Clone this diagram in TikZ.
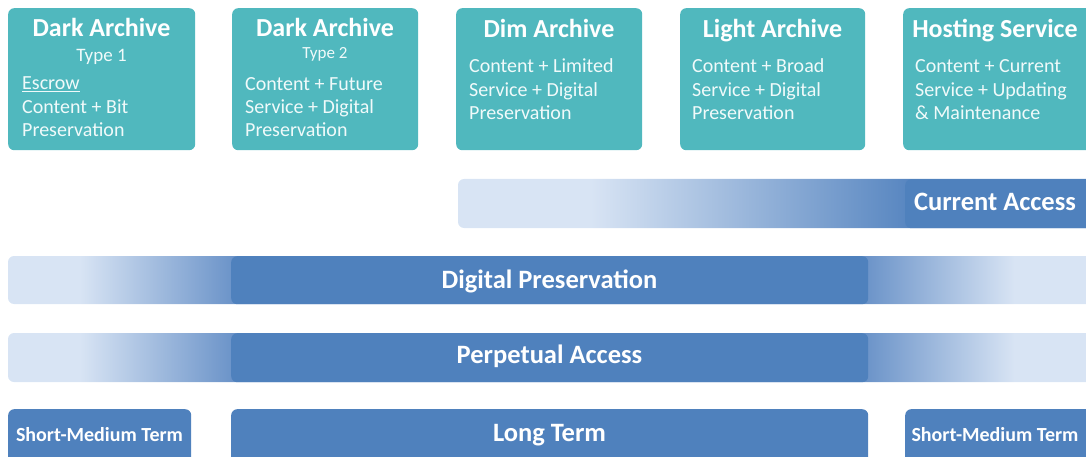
\documentclass[tikz,border=0pt]{standalone}
\usepackage{fontspec}
\setmainfont{Carlito}
\definecolor{tealbox}{HTML}{50B8BE}
\definecolor{bodytext}{HTML}{F0FAFA}
\definecolor{lb}{HTML}{D8E4F4}
\definecolor{db}{HTML}{4F81BD}
\definecolor{mb}{HTML}{6C94C9}
\definecolor{cb}{HTML}{5987C1}
\pgfdeclarehorizontalshading{dpshade}{100bp}{color(0bp)=(lb); color(28.3bp)=(lb); color(35.3bp)=(mb); color(64.5bp)=(mb); color(71.3bp)=(lb); color(100bp)=(lb)}
\pgfdeclarehorizontalshading{cashade}{100bp}{color(0bp)=(lb); color(35.4bp)=(lb); color(60.2bp)=(cb); color(100bp)=(db)}
\begin{document}
\begin{tikzpicture}[x=1pt,y=-1pt,
  tbox/.style={fill=tealbox, rounded corners=6pt, draw=none, inner sep=0pt, anchor=north west, minimum height=142pt},
  dbox/.style={fill=db, rounded corners=6pt, draw=none, inner sep=0pt, anchor=north west},
  title/.style={text=white, font=\fontsize{26}{31}\selectfont\bfseries, anchor=base, inner sep=0pt},
  subt/.style={text=bodytext, font=\fontsize{19}{23}\selectfont, anchor=base, inner sep=0pt},
  bodyt/.style={text=bodytext, font=\fontsize{20}{24}\selectfont, anchor=base west, inner sep=0pt},
  bart/.style={text=white, font=\fontsize{26.5}{31}\selectfont\bfseries, anchor=base, inner sep=0pt},
  smallbart/.style={text=white, font=\fontsize{20}{24}\selectfont\bfseries, anchor=base, inner sep=0pt}]
\clip (0,0) rectangle (1086,457);
% ---------- top boxes ----------
\node[tbox, minimum width=187pt] (b1) at (8,8) {};
\node[tbox, minimum width=186pt] (b2) at (232,8) {};
\node[tbox, minimum width=186pt] (b3) at (456,8) {};
\node[tbox, minimum width=185pt] (b4) at (680,8) {};
\node[tbox, minimum width=195pt] (b5) at (903,8) {};
% box 1
\node[title] (t1) at (101.5,37) {Dark Archive};
\node[subt] (s1) at (101.5,62) {Type 1};
\node[bodyt] (l11) at (22,90) {\underline{Escrow}};
\node[bodyt] (l12) at (22,114) {Content + Bit};
\node[bodyt] (l13) at (22,137) {Preservation};
% box 2
\node[title] (t2) at (325,37) {Dark Archive};
\node[subt, font=\fontsize{17}{21}\selectfont] (s2) at (325,59) {Type 2};
\node[bodyt] (l21) at (245,91) {Content + Future};
\node[bodyt] (l22) at (245,114) {Service + Digital};
\node[bodyt] (l23) at (245,137) {Preservation};
% box 3
\node[title] (t3) at (549,38) {Dim Archive};
\node[bodyt] (l31) at (469,73) {Content + Limited};
\node[bodyt] (l32) at (469,97) {Service + Digital};
\node[bodyt] (l33) at (469,120) {Preservation};
% box 4
\node[title] (t4) at (772.5,38) {Light Archive};
\node[bodyt] (l41) at (692,73) {Content + Broad};
\node[bodyt] (l42) at (692,97) {Service + Digital};
\node[bodyt] (l43) at (692,120) {Preservation};
% box 5
\node[title] (t5) at (995,38) {Hosting Service};
\node[bodyt] (l51) at (915,73) {Content + Current};
\node[bodyt] (l52) at (915,97) {Service + Updating};
\node[bodyt] (l53) at (915,120) {\& Maintenance};
% ---------- Current Access bar ----------
\shade[shading=cashade, rounded corners=6pt] (458,179) rectangle (1095,228);
\node[dbox, minimum width=190pt, minimum height=49pt] (cab) at (905,179) {};
\node[bart] (ca) at (995,211) {Current Access};
% ---------- Digital Preservation bar ----------
\shade[shading=dpshade, rounded corners=6pt] (8,256) rectangle (1095,304);
\node[dbox, minimum width=637pt, minimum height=48pt] (dpb) at (231,256) {};
\node[bart] (dp) at (549.5,288) {Digital Preservation};
% ---------- Perpetual Access bar ----------
\shade[shading=dpshade, rounded corners=6pt] (8,333) rectangle (1095,382);
\node[dbox, minimum width=637pt, minimum height=49pt] (pab) at (231,333) {};
\node[bart] (pa) at (549.5,363) {Perpetual Access};
% ---------- bottom term boxes ----------
\node[dbox, minimum width=183pt, minimum height=60pt] (smlb) at (8,409) {};
\node[dbox, minimum width=637pt, minimum height=60pt] (ltb) at (231,409) {};
\node[dbox, minimum width=190pt, minimum height=60pt] (smrb) at (905,409) {};
\node[smallbart] (sml) at (99.5,441) {Short-Medium Term};
\node[bart] (lt) at (549.5,441) {Long Term};
\node[smallbart] (smr) at (995,441) {Short-Medium Term};
\end{tikzpicture}
\end{document}
